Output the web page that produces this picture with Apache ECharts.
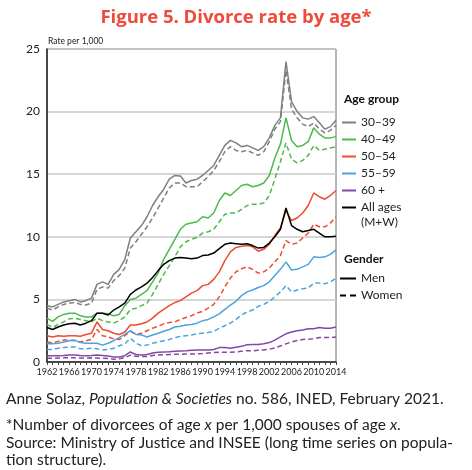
<!DOCTYPE html>
<html lang="en">
  <head>
    <meta charset="UTF-8" />
    <title>Divorce rate by age</title>
    <style>
      body {
        margin: 0;
        background: #fff;
      }
      #chart {
        width: 472px;
        height: 470px;
      }
    </style>
    <script src="https://cdn.jsdelivr.net/npm/echarts@6/dist/echarts.min.js"></script>
  </head>
  <body>
    <div id="chart"></div>

    <script>
      // years on the x axis
      const years = [];
      for (let y = 1962; y <= 2014; y++) years.push(String(y));

      const ageGroups = ["30–39", "40–49", "50–54", "55–59", "60 +", "All ages"];
      const yTicks = [0, 5, 10, 15, 20, 25];

      // rates per 1,000, men (solid) and women (dashed)
      const men3039 = [4.5, 4.4, 4.6, 4.8, 4.9, 5.0, 4.8, 4.9, 5.1, 6.2, 6.4, 6.2, 7.0, 7.4, 8.2, 9.9, 10.4, 10.9, 11.6, 12.5, 13.2, 13.8, 14.6, 14.9, 14.85, 14.3, 14.5, 14.6, 14.9, 15.3, 15.7, 16.5, 17.3, 17.7, 17.5, 17.2, 17.3, 17.1, 16.9, 17.2, 17.9, 18.9, 19.5, 24.0, 20.8, 20.0, 19.5, 19.4, 19.6, 19.1, 18.6, 18.8, 19.3];
      const women3039 = [4.3, 4.15, 4.4, 4.6, 4.7, 4.75, 4.6, 4.55, 4.7, 5.8, 6.0, 5.9, 6.5, 6.9, 7.5, 9.1, 9.6, 10.2, 10.8, 11.5, 12.3, 13.1, 13.9, 14.3, 14.3, 14.0, 14.0, 14.0, 14.4, 14.8, 15.3, 16.0, 16.8, 17.2, 16.9, 16.8, 16.9, 16.7, 16.5, 16.8, 17.6, 18.6, 19.2, 23.3, 20.2, 19.5, 19.0, 18.8, 19.1, 18.6, 18.3, 18.5, 18.9];
      const men4049 = [3.5, 3.25, 3.6, 3.8, 3.9, 3.9, 3.7, 3.6, 3.6, 3.9, 3.9, 3.85, 3.7, 3.8, 4.5, 5.0, 5.1, 5.4, 5.7, 6.4, 7.1, 8.2, 9.0, 9.8, 10.6, 11.0, 11.1, 11.2, 11.6, 11.5, 11.9, 12.9, 13.5, 13.3, 13.7, 14.1, 14.2, 14.0, 14.1, 14.3, 14.9, 16.3, 17.4, 19.5, 17.7, 17.2, 17.3, 17.6, 18.7, 18.2, 17.9, 17.9, 18.0];
      const women4049 = [3.0, 2.75, 3.0, 3.2, 3.45, 3.5, 3.4, 3.3, 3.2, 3.5, 3.3, 3.2, 3.1, 3.3, 3.6, 4.2, 4.3, 4.5, 4.7, 5.4, 6.2, 7.0, 7.7, 8.4, 9.2, 9.6, 9.8, 9.95, 10.3, 10.4, 10.6, 11.2, 11.8, 11.9, 11.9, 12.2, 12.5, 12.6, 12.6, 12.7, 13.3, 14.6, 16.0, 17.5, 16.2, 15.9, 16.1, 16.5, 17.3, 16.9, 17.0, 17.1, 17.2];
      const men5054 = [2.1, 2.0, 2.1, 2.05, 2.1, 2.1, 2.05, 2.2, 2.3, 3.2, 2.6, 2.5, 2.3, 2.2, 2.4, 2.95, 2.95, 3.05, 3.2, 3.5, 3.9, 4.2, 4.5, 4.75, 4.9, 5.2, 5.5, 5.7, 6.1, 6.2, 6.6, 7.2, 8.1, 8.8, 9.15, 9.25, 9.3, 9.2, 8.85, 9.0, 9.4, 10.1, 10.7, 12.1, 11.3, 11.5, 11.9, 12.5, 13.5, 13.2, 13.0, 13.3, 13.7];
      const women5054 = [1.6, 1.5, 1.65, 1.75, 1.75, 1.7, 1.6, 1.7, 1.8, 2.6, 2.1, 2.0, 1.85, 1.8, 2.1, 2.45, 2.2, 2.3, 2.5, 2.7, 2.85, 3.05, 3.15, 3.2, 3.4, 3.55, 3.7, 3.9, 4.05, 4.3, 4.6, 5.2, 6.0, 6.7, 7.2, 7.45, 7.6, 7.4, 7.1, 7.2, 7.5, 8.0, 8.5, 9.7, 9.4, 9.5, 9.9, 10.3, 11.0, 10.8, 10.8, 11.1, 11.6];
      const men5559 = [1.45, 1.45, 1.5, 1.6, 1.7, 1.75, 1.55, 1.5, 1.5, 1.5, 1.35, 1.5, 1.7, 1.95, 2.2, 2.5, 2.2, 2.15, 2.0, 2.15, 2.3, 2.45, 2.6, 2.8, 2.85, 2.95, 3.0, 3.1, 3.3, 3.4, 3.6, 3.85, 4.2, 4.55, 4.85, 5.3, 5.6, 5.75, 5.95, 6.1, 6.4, 6.9, 7.4, 8.0, 7.35, 7.4, 7.6, 7.8, 8.4, 8.35, 8.4, 8.6, 8.95];
      const women5559 = [1.0, 1.0, 1.1, 1.15, 1.2, 1.2, 1.05, 1.05, 1.1, 1.05, 0.95, 1.0, 1.1, 1.3, 1.45, 1.9, 1.5, 1.3, 1.35, 1.5, 1.6, 1.7, 1.8, 1.95, 2.05, 2.1, 2.15, 2.25, 2.3, 2.35, 2.45, 2.7, 2.9, 3.1, 3.4, 3.75, 4.0, 4.15, 4.45, 4.6, 4.85, 5.2, 5.6, 6.1, 5.6, 5.75, 5.85, 5.9, 6.3, 6.3, 6.25, 6.4, 6.7];
      const men60 = [0.5, 0.5, 0.5, 0.52, 0.55, 0.55, 0.52, 0.5, 0.52, 0.55, 0.52, 0.47, 0.4, 0.4, 0.5, 0.8, 0.6, 0.55, 0.6, 0.72, 0.78, 0.8, 0.82, 0.85, 0.88, 0.9, 0.93, 0.95, 0.96, 0.96, 1.0, 1.15, 1.15, 1.1, 1.18, 1.25, 1.38, 1.4, 1.4, 1.45, 1.55, 1.75, 2.0, 2.25, 2.4, 2.5, 2.55, 2.65, 2.65, 2.75, 2.7, 2.7, 2.8];
      const women60 = [0.3, 0.3, 0.32, 0.33, 0.35, 0.33, 0.32, 0.32, 0.33, 0.32, 0.3, 0.28, 0.22, 0.25, 0.35, 0.55, 0.45, 0.43, 0.43, 0.52, 0.56, 0.58, 0.6, 0.61, 0.62, 0.63, 0.64, 0.65, 0.68, 0.72, 0.76, 0.77, 0.77, 0.77, 0.8, 0.85, 0.9, 0.9, 0.93, 0.96, 1.02, 1.12, 1.28, 1.45, 1.6, 1.72, 1.8, 1.82, 1.85, 1.95, 1.95, 1.95, 2.0];
      const allAges = [2.75, 2.6, 2.8, 2.95, 3.05, 3.1, 2.95, 3.1, 3.3, 3.9, 3.9, 3.75, 4.15, 4.4, 4.7, 5.4, 5.75, 6.0, 6.3, 6.75, 7.3, 7.8, 8.1, 8.3, 8.35, 8.3, 8.25, 8.3, 8.5, 8.55, 8.7, 9.05, 9.4, 9.5, 9.45, 9.4, 9.45, 9.3, 9.1, 9.15, 9.5, 10.0, 10.6, 12.3, 10.9, 10.6, 10.4, 10.5, 10.6, 10.3, 10.0, 10.0, 10.05];

      const colors = {
        "30–39": "#7d8080",
        "40–49": "#4dba4a",
        "50–54": "#f04b30",
        "55–59": "#4fa3dd",
        "60 +": "#8447a8",
        "All ages": "#000000",
      };
      const font = "Lato";
      const dash = [5, 3];
      const solidIcon = "rect";
      const dashedIcon = "path://M0,0h6v2h-6z M10,0h6v2h-6z";

      function line(name, data, color, dashed, z) {
        return {
          name: name,
          type: "line",
          data: data,
          symbol: "none",
          z: z,
          color: color,
          lineStyle: { color: color, width: 1.5, type: dashed ? dash : "solid" },
          emphasis: { disabled: true },
        };
      }

      const series = [
        line("30–39 W", women3039, colors["30–39"], true, 2),
        line("40–49 W", women4049, colors["40–49"], true, 2),
        line("50–54 W", women5054, colors["50–54"], true, 2),
        line("55–59 W", women5559, colors["55–59"], true, 2),
        line("60 + W", women60, colors["60 +"], true, 2),
        line("30–39", men3039, colors["30–39"], false, 3),
        line("40–49", men4049, colors["40–49"], false, 3),
        line("50–54", men5054, colors["50–54"], false, 3),
        line("55–59", men5559, colors["55–59"], false, 3),
        line("60 +", men60, colors["60 +"], false, 3),
        line("All ages", allAges, colors["All ages"], false, 4),
        // legend-only entries for gender
        line("Men", [], "#000", false, 1),
        line("Women", [], "#000", true, 1),
      ];

      const legendText = { fontSize: 12, lineHeight: 17, fontFamily: font, color: "#222" };

      const chart = echarts.init(document.getElementById("chart"));
      chart.setOption({
        animation: false,
        title: {
          text: "Figure 5. Divorce rate by age*",
          left: "center",
          top: 3,
          textStyle: {
            color: "#ef4a3a",
            fontSize: 18.5,
            fontWeight: "bold",
            fontFamily: "Open Sans",
          },
        },
        grid: {
          left: 47,
          right: 136,
          top: 49,
          bottom: 108,
          show: true,
          borderColor: "#6d6d6d",
          borderWidth: 1,
        },
        xAxis: {
          type: "category",
          data: years,
          boundaryGap: false,
          axisLine: { lineStyle: { color: "#222", width: 1.5 } },
          axisTick: { interval: 0, length: 3, lineStyle: { color: "#444" } },
          axisLabel: {
            interval: 3,
            fontSize: 9,
            fontFamily: font,
            color: "#222",
            margin: 6,
          },
          splitLine: { show: false },
        },
        yAxis: {
          type: "value",
          min: yTicks[0],
          max: yTicks[yTicks.length - 1],
          interval: 5,
          axisLine: { show: true, lineStyle: { color: "#222", width: 1.5 } },
          axisTick: { show: false },
          axisLabel: { fontSize: 12, fontFamily: font, color: "#222", margin: 7 },
          splitLine: { lineStyle: { color: "#c8c8c8", width: 1.5 } },
        },
        legend: [
          {
            data: ageGroups.map((g) => ({ name: g, icon: solidIcon })),
            orient: "vertical",
            left: 342,
            top: 114,
            padding: 0,
            itemWidth: 14,
            itemHeight: 2,
            itemGap: 0,
            selectedMode: false,
            textStyle: legendText,
          },
          {
            data: [
              { name: "Men", icon: solidIcon },
              { name: "Women", icon: dashedIcon },
            ],
            orient: "vertical",
            left: 340,
            top: 270,
            padding: 0,
            itemWidth: 16,
            itemHeight: 2,
            itemGap: 0,
            selectedMode: false,
            textStyle: legendText,
          },
        ],
        graphic: [
          {
            type: "text",
            left: 48,
            top: 37,
            style: { text: "Rate per 1,000", font: "8.5px " + font, fill: "#222" },
          },
          {
            type: "text",
            left: 344,
            top: 93,
            style: { text: "Age group", font: "bold 12px " + font, fill: "#111" },
          },
          {
            type: "text",
            left: 361,
            top: 216,
            style: { text: "(M+W)", font: "12px " + font, fill: "#222" },
          },
          {
            type: "text",
            left: 344,
            top: 253,
            style: { text: "Gender", font: "bold 12px " + font, fill: "#111" },
          },
          {
            type: "text",
            left: 6,
            top: 391,
            style: {
              text: "{n|Anne Solaz, }{i|Population & Societies}{n| no. 586, INED, February 2021.}",
              rich: {
                n: { font: "15.5px " + font, fill: "#222" },
                i: { font: "italic 15.5px " + font, fill: "#222" },
              },
            },
          },
          {
            type: "text",
            left: 6,
            top: 417,
            style: {
              text: "{n|*Number of divorcees of age }{i|x}{n| per 1,000 spouses of age }{i|x}{n|.}",
              rich: {
                n: { font: "15.5px " + font, fill: "#222" },
                i: { font: "italic 15.5px " + font, fill: "#222" },
              },
            },
          },
          {
            type: "text",
            left: 6,
            top: 434,
            style: {
              text: "Source: Ministry of Justice and INSEE (long time series on popula-\ntion structure).",
              font: "15.5px " + font,
              fill: "#222",
              lineHeight: 17,
            },
          },
        ],
        series: series,
      });
    </script>
  </body>
</html>
